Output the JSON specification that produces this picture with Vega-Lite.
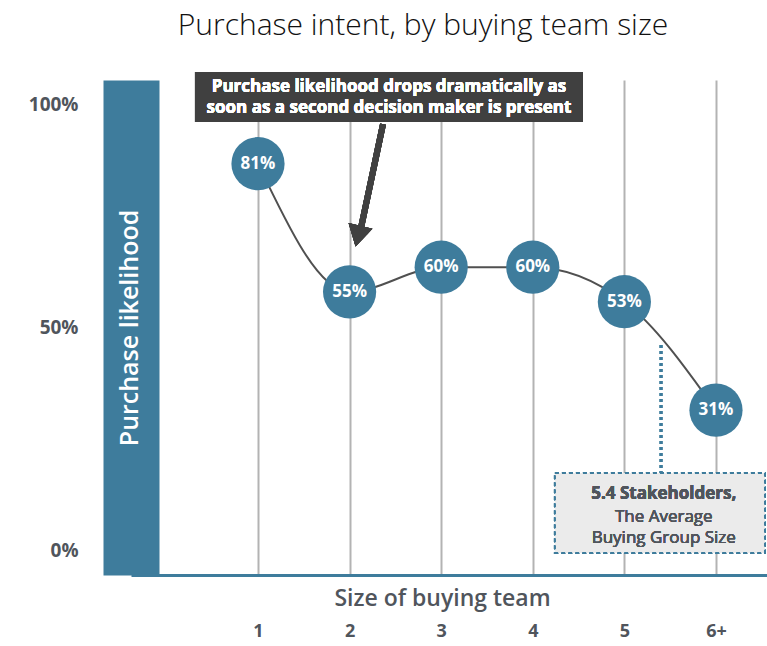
{
  "$schema": "https://vega.github.io/schema/vega-lite/v6.json",
  "width": 636,
  "height": 495,
  "autosize": {"type": "none"},
  "padding": {"left": 131, "top": 80, "right": 0, "bottom": 71},
  "background": "white",
  "title": {
    "text": "Purchase intent, by buying team size",
    "font": "Open Sans",
    "fontSize": 30,
    "fontWeight": 300,
    "color": "#111111",
    "anchor": "middle",
    "frame": "group",
    "offset": 31,
    "dx": -26
  },
  "config": {
    "view": {"stroke": null},
    "font": "Open Sans",
    "axis": {
      "grid": false,
      "ticks": false,
      "labelFont": "Open Sans",
      "labelFontWeight": "bold",
      "labelColor": "#50555c",
      "labelFontSize": 19,
      "titleFont": "Open Sans"
    }
  },
  "datasets": {
    "points": [
      {"size": 1, "pct": 81, "label": "81%"},
      {"size": 2, "pct": 55, "label": "55%"},
      {"size": 3, "pct": 60, "label": "60%"},
      {"size": 4, "pct": 60, "label": "60%"},
      {"size": 5, "pct": 53, "label": "53%"},
      {"size": 6, "pct": 31, "label": "31%"}
    ]
  },
  "resolve": {"scale": {"y": "independent"}, "axis": {"y": "independent"}},
  "layer": [
    {
      "data": {"name": "points"},
      "layer": [
        {
          "mark": {"type": "rect", "fill": "#404040"},
          "encoding": {
            "x": {"datum": 0.312, "type": "quantitative",
              "scale": {"domain": [-0.3865, 6.557], "nice": false, "zero": false},
              "axis": {
                "values": [1, 2, 3, 4, 5, 6],
                "labelExpr": "datum.value == 6 ? '6+' : datum.value",
                "labelFontSize": 18,
                "grid": true,
                "gridColor": "#b3b3b3",
                "gridWidth": 2,
                "domainColor": "#3e7c9c",
                "domainWidth": 3,
                "labelPadding": 47,
                "title": "Size of buying team",
                "titleFontSize": 23,
                "titleFontWeight": 600,
                "titleColor": "#50555c",
                "titleX": 311,
                "titleY": 23,
                "titleAlign": "center",
                "titleBaseline": "middle"
              }
            },
            "x2": {"datum": 4.548},
            "y": {"datum": 107.4, "type": "quantitative",
              "scale": {"domain": [-5.4, 105.6], "nice": false, "zero": false},
              "axis": {
                "orient": "left",
                "values": [0, 50, 100],
                "labelExpr": "datum.value + '%'",
                "domainColor": "#3e7c9c",
                "domainWidth": 56,
                "labelPadding": 53,
                "title": "Purchase likelihood",
                "titleColor": "white",
                "titleFontSize": 25,
                "titleFontWeight": 600,
                "titleAngle": -90,
                "titleX": -2,
                "titleY": 247.5,
                "titleAlign": "center",
                "titleBaseline": "middle"
              }
            },
            "y2": {"datum": 96.2}
          }
        },
        {
          "mark": {"type": "text", "color": "white", "fontSize": 17, "fontWeight": "bold", "font": "Open Sans", "lineHeight": 21, "baseline": "middle", "align": "center"},
          "encoding": {
            "x": {"datum": 2.43, "type": "quantitative"},
            "y": {"datum": 104.0, "type": "quantitative"},
            "text": {"value": ["Purchase likelihood drops dramatically as", "soon as a second decision maker is present"]}
          }
        },
        {
          "mark": {"type": "rule", "stroke": "#404040", "strokeWidth": 6},
          "encoding": {
            "x": {"datum": 2.365, "type": "quantitative"},
            "y": {"datum": 95.7, "type": "quantitative"},
            "x2": {"datum": 2.124},
            "y2": {"datum": 72.4}
          }
        },
        {
          "mark": {"type": "point", "shape": "triangle-down", "filled": true, "fill": "#404040", "opacity": 1, "size": 600, "angle": 13.5},
          "encoding": {
            "x": {"datum": 2.092, "type": "quantitative"},
            "y": {"datum": 70.6, "type": "quantitative"}
          }
        },
        {
          "mark": {"type": "rule", "stroke": "#3e7c9c", "strokeWidth": 2.5, "strokeDash": [3, 3]},
          "encoding": {
            "x": {"datum": 5.4, "type": "quantitative"},
            "y": {"datum": 46.2, "type": "quantitative"},
            "y2": {"datum": 17.5}
          }
        },
        {
          "mark": {"type": "rect", "fill": "#ebebeb", "stroke": "#3e7c9c", "strokeWidth": 2, "strokeDash": [4, 3]},
          "encoding": {
            "x": {"datum": 4.242, "type": "quantitative"},
            "x2": {"datum": 6.535},
            "y": {"datum": 17.5, "type": "quantitative"},
            "y2": {"datum": -0.47}
          }
        },
        {
          "mark": {"type": "text", "color": "#50555c", "fontSize": 17, "fontWeight": "bold", "font": "Open Sans", "baseline": "middle", "align": "center"},
          "encoding": {
            "x": {"datum": 5.43, "type": "quantitative"},
            "y": {"datum": 12.8, "type": "quantitative"},
            "text": {"value": "5.4 Stakeholders,"}
          }
        },
        {
          "mark": {"type": "text", "color": "#50555c", "fontSize": 17, "fontWeight": "normal", "font": "Open Sans", "lineHeight": 21, "baseline": "middle", "align": "center"},
          "encoding": {
            "x": {"datum": 5.43, "type": "quantitative"},
            "y": {"datum": 7.7, "type": "quantitative"},
            "text": {"value": ["The Average", "Buying Group Size"]}
          }
        }
      ]
    },
    {
      "data": {"name": "points"},
      "encoding": {
        "x": {"field": "size", "type": "quantitative"},
        "y": {"field": "pct", "type": "quantitative",
          "scale": {"domain": [-2.43, 97.97], "nice": false, "zero": false},
          "axis": null}
      },
      "layer": [
        {"mark": {"type": "line", "interpolate": "monotone", "stroke": "#505050", "strokeWidth": 2}},
        {"mark": {"type": "point", "filled": true, "fill": "#3e7c9c", "opacity": 1, "size": 2830, "strokeWidth": 0}},
        {
          "mark": {"type": "text", "color": "white", "fontSize": 17, "fontWeight": "bold", "font": "Open Sans", "baseline": "middle", "align": "center"},
          "encoding": {"text": {"field": "label"}}
        }
      ]
    }
  ]
}
